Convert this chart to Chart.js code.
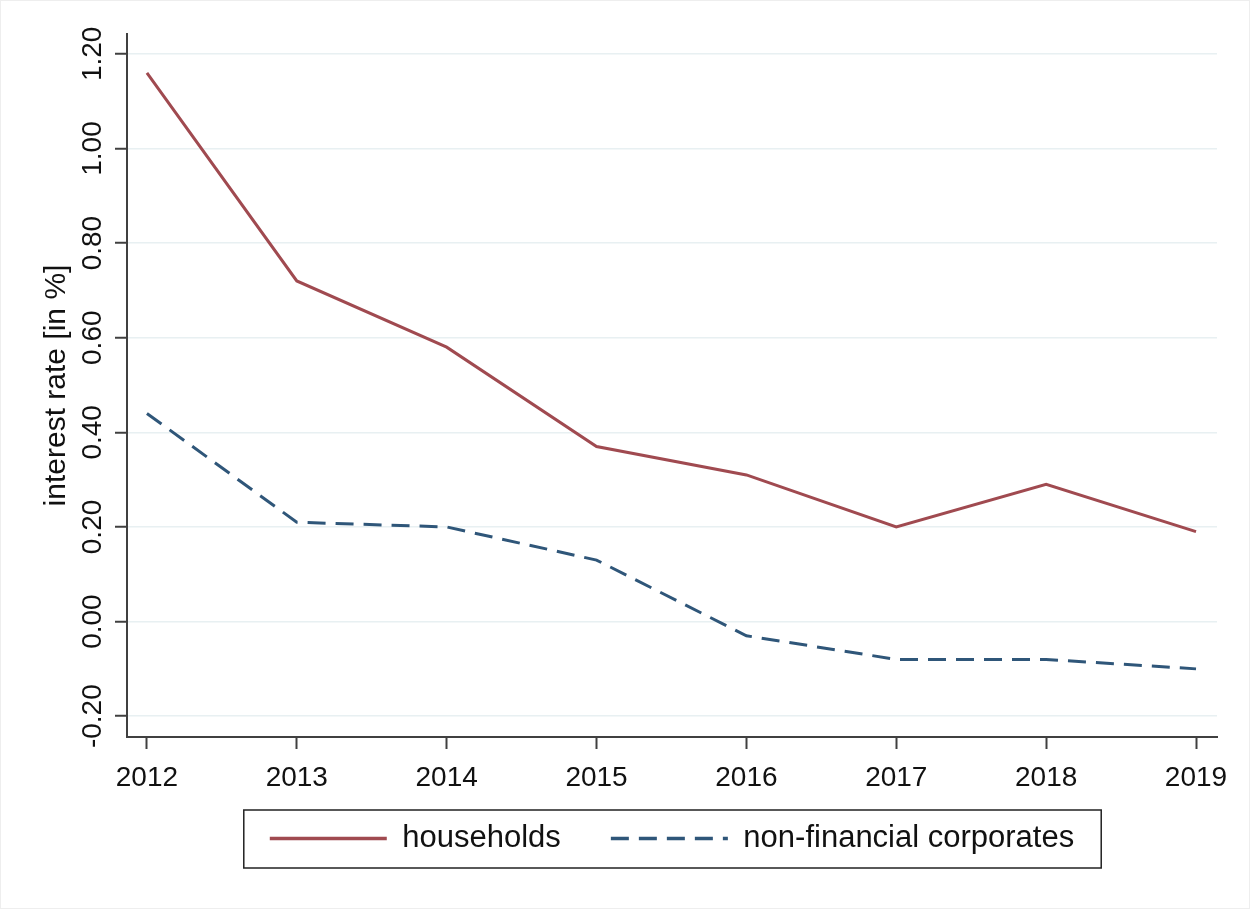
<!DOCTYPE html>
<html>
<head>
<meta charset="utf-8">
<script src="https://cdn.jsdelivr.net/npm/chart.js@4/dist/chart.umd.min.js"></script>
<style>
  html, body { margin:0; padding:0; background:#fff; }
  #wrap { position:relative; width:1250px; height:909px; box-sizing:border-box; border:1px solid #eeeeee; }
</style>
</head>
<body>
<div id="wrap"><canvas id="c"></canvas></div>
<script>
// data
const years = [2012, 2013, 2014, 2015, 2016, 2017, 2018, 2019];
const households = [1.16, 0.72, 0.58, 0.37, 0.31, 0.20, 0.29, 0.19];
const corporates = [0.44, 0.21, 0.20, 0.13, -0.03, -0.08, -0.08, -0.10];
const yTicks = [-0.2, 0, 0.2, 0.4, 0.6, 0.8, 1.0, 1.2];

const FONT = "'Liberation Sans', Arial, sans-serif";
const INK = '#111111';
const AXIS = '#404040';
const GRID = '#e8f0f2';

const pts = vals => years.map((y, i) => ({x: y, y: vals[i]}));

// tick labels (y rotated, x below the axis) + legend frame
const extras = {
  id: 'extras',
  afterDraw(chart){
    const ctx = chart.ctx, ys = chart.scales.y, xs = chart.scales.x;
    ctx.save();
    ctx.fillStyle = INK;
    ctx.font = '28px ' + FONT;
    ctx.textAlign = 'center';
    ctx.textBaseline = 'alphabetic';
    ys.ticks.forEach(t => {
      ctx.save();
      ctx.translate(100, ys.getPixelForValue(t.value));
      ctx.rotate(-Math.PI/2);
      ctx.fillText(t.value.toFixed(2), 0, 0);
      ctx.restore();
    });
    xs.ticks.forEach(t => {
      ctx.fillText(String(t.value), xs.getPixelForValue(t.value), 785);
    });
    ctx.restore();

    const hb = chart.legend.legendHitBoxes;
    if (hb && hb.length){
      const l = hb[0].left - 26;
      const r = hb[hb.length-1].left + hb[hb.length-1].width + 27;
      const t = hb[0].top - 13;
      const b = hb[0].top + hb[0].height + 14;
      ctx.save();
      ctx.strokeStyle = '#222';
      ctx.lineWidth = 1.5;
      ctx.strokeRect(l, t, r - l, b - t);
      ctx.restore();
    }
  }
};

new Chart(document.getElementById('c'), {
  type: 'line',
  data: {
    datasets: [
      { label: 'households', data: pts(households), borderColor: '#a04a50', backgroundColor: '#a04a50',
        borderWidth: 3, pointRadius: 0, tension: 0 },
      { label: 'non-financial corporates', data: pts(corporates), borderColor: '#2f5679', backgroundColor: '#2f5679',
        borderWidth: 3, borderDash: [18, 10], pointRadius: 0, tension: 0 },
    ]
  },
  options: {
    responsive: true, maintainAspectRatio: false, animation: false,
    layout: { padding: { left: 0, right: 32, top: 33, bottom: 44 } },
    plugins: {
      tooltip: { enabled: false },
      legend: {
        position: 'bottom', fullSize: false,
        labels: {
          usePointStyle: true, pointStyle: 'line', pointStyleWidth: 117, boxHeight: 31,
          padding: 50, color: INK, font: { family: FONT, size: 31 },
          generateLabels: chart => Chart.defaults.plugins.legend.labels.generateLabels(chart).map((it, i) => ({
            ...it, lineDash: chart.data.datasets[i].borderDash || [], lineWidth: 3.5,
          })),
        }
      }
    },
    scales: {
      x: {
        type: 'linear', min: 2011.867, max: 2019.14,
        afterBuildTicks: s => { s.ticks = years.map(v => ({value: v})); },
        afterFit: s => { s.height = 36; },
        grid: { drawOnChartArea: false, tickLength: 12, tickColor: AXIS, tickWidth: 2 },
        border: { color: AXIS, width: 2 },
        ticks: { display: false },
      },
      y: {
        type: 'linear', min: -0.244, max: 1.242,
        afterBuildTicks: s => { s.ticks = yTicks.map(v => ({value: v})); },
        afterFit: s => { s.width = 126; },
        grid: { color: GRID, lineWidth: 1.5, tickLength: 12, tickColor: AXIS, tickWidth: 2 },
        border: { color: AXIS, width: 2 },
        ticks: { display: false },
        title: { display: true, text: 'interest rate [in %]', color: INK,
          font: { family: FONT, size: 30 }, padding: { top: 38, bottom: 0 } },
      }
    }
  },
  plugins: [extras]
});
</script>
</body>
</html>
